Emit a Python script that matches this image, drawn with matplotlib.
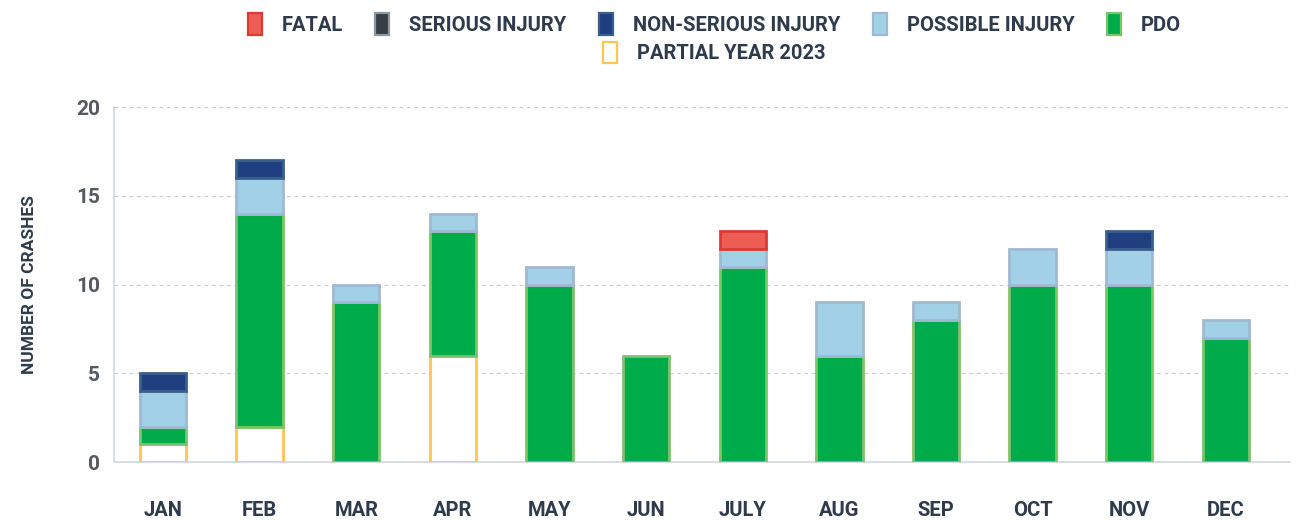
import matplotlib.pyplot as plt
from matplotlib.patches import Patch
import numpy as np

months = ["JAN", "FEB", "MAR", "APR", "MAY", "JUN", "JULY", "AUG", "SEP", "OCT", "NOV", "DEC"]
partial_2023 = [1, 2, 0, 6, 0, 0, 0, 0, 0, 0, 0, 0]
pdo = [1, 12, 9, 7, 10, 6, 11, 6, 8, 10, 10, 7]
possible = [2, 2, 1, 1, 1, 0, 1, 3, 1, 2, 2, 1]
non_serious = [1, 1, 0, 0, 0, 0, 0, 0, 0, 0, 1, 0]
serious = [0, 0, 0, 0, 0, 0, 0, 0, 0, 0, 0, 0]
fatal = [0, 0, 0, 0, 0, 0, 1, 0, 0, 0, 0, 0]

FONT = ["Roboto", "DejaVu Sans"]
TXT = "#2f3b4c"

# (label, values, face, edge)
series = [
    ("PARTIAL YEAR 2023", partial_2023, "white", "#ffc54f"),
    ("PDO", pdo, "#00ac4a", "#7dc36b"),
    ("POSSIBLE INJURY", possible, "#a2d1e7", "#9fb9d4"),
    ("NON-SERIOUS INJURY", non_serious, "#1f3f80", "#3a5f8c"),
    ("SERIOUS INJURY", serious, "#363d45", "#8f979e"),
    ("FATAL", fatal, "#ec5d56", "#de3a31"),
]

fig = plt.figure(figsize=(12.99, 5.2), dpi=100)
ax = fig.add_axes([0.0878, 0.1115, 0.905, 0.6825])

x = np.arange(len(months))
bottom = np.zeros(len(months))
for label, vals, face, edge in series:
    vals = np.array(vals, dtype=float)
    lw = [2.0 if v > 0 else 0 for v in vals]
    ax.bar(x, vals, bottom=bottom, width=0.48, color=face, edgecolor=edge,
           linewidth=lw, zorder=3)
    bottom += vals

ax.set_ylim(0, 20)
ax.set_xlim(-0.507, 11.66)
ax.set_yticks([0, 5, 10, 15, 20])
ax.set_xticks(x)
ax.set_xticklabels(months)
ax.grid(axis="y", color="#cccccc", linestyle=(0, (3, 3)), linewidth=0.9, zorder=0)
for s in ["top", "right"]:
    ax.spines[s].set_visible(False)
for s in ["left", "bottom"]:
    ax.spines[s].set_color("#d5dbe0")
    ax.spines[s].set_linewidth(1.3)
ax.tick_params(length=0)
ax.tick_params(axis="x", pad=28)
ax.tick_params(axis="y", pad=10)
for t in ax.get_xticklabels():
    t.set_fontfamily(FONT)
    t.set_fontweight("bold")
    t.set_fontsize(14.5)
    t.set_color(TXT)
for t in ax.get_yticklabels():
    t.set_fontfamily(FONT)
    t.set_fontweight("bold")
    t.set_fontsize(15)
    t.set_color("#555a60")
ax.set_ylabel("NUMBER OF CRASHES", fontfamily=FONT, fontweight="bold",
              fontsize=12.5, color=TXT, labelpad=28)

leg_props = {"family": FONT, "weight": "bold", "size": 14.5}
order = [5, 4, 3, 2, 1]
h1 = [Patch(facecolor=series[i][2], edgecolor=series[i][3], linewidth=1.6, label=series[i][0]) for i in order]
fig.legend(handles=h1, loc="upper center", bbox_to_anchor=(0.55, 1.01), ncol=5,
           frameon=False, prop=leg_props, handlelength=0.7, handleheight=1.3,
           columnspacing=1.6, handletextpad=1.0, labelcolor=TXT)
h2 = [Patch(facecolor=series[0][2], edgecolor=series[0][3], linewidth=1.6, label=series[0][0])]
fig.legend(handles=h2, loc="upper center", bbox_to_anchor=(0.55, 0.955), ncol=1,
           frameon=False, prop=leg_props, handlelength=0.7, handleheight=1.3,
           handletextpad=1.0, labelcolor=TXT)

fig.savefig("out.png", dpi=100)
